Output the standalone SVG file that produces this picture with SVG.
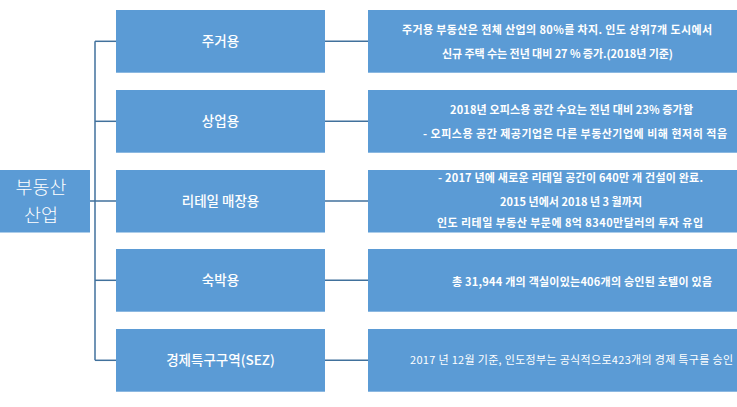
<svg xmlns="http://www.w3.org/2000/svg" width="737" height="407" viewBox="0 0 737 407">
<style>
  .box { fill: #5B9BD5; }
  .conn { stroke: #41719C; stroke-width: 1.5; fill: none; }
  .root { font-family: "Noto Sans CJK KR", "Noto Sans", sans-serif; font-size: 18.5px; fill: #FFFFFF; text-anchor: middle; font-weight: 300; }
  .mid { font-family: "Noto Sans CJK KR", "Noto Sans", sans-serif; font-size: 13.5px; fill: #FFFFFF; text-anchor: middle; font-weight: 500; }
  .det { font-family: "Noto Sans CJK KR", "Noto Sans", sans-serif; font-size: 11px; fill: #FFFFFF; text-anchor: middle; font-weight: 700; }
  .detn { font-family: "Noto Sans CJK KR", "Noto Sans", sans-serif; font-size: 11px; fill: #FFFFFF; text-anchor: middle; font-weight: 400; }
</style>
<rect width="737" height="407" fill="#FFFFFF"/>
<g id="connectors">
  <line class="conn" x1="90" y1="201" x2="95" y2="201"/>
  <line class="conn" x1="95" y1="41.3" x2="95" y2="360.3"/>
  <line class="conn" x1="95" y1="41.3" x2="116" y2="41.3"/>
  <line class="conn" x1="95" y1="121.3" x2="116" y2="121.3"/>
  <line class="conn" x1="95" y1="201" x2="116" y2="201"/>
  <line class="conn" x1="95" y1="280.3" x2="116" y2="280.3"/>
  <line class="conn" x1="95" y1="360.3" x2="116" y2="360.3"/>
  <line class="conn" x1="325" y1="41.3" x2="368" y2="41.3"/>
  <line class="conn" x1="325" y1="121.3" x2="368" y2="121.3"/>
  <line class="conn" x1="325" y1="201" x2="368" y2="201"/>
  <line class="conn" x1="325" y1="280.3" x2="368" y2="280.3"/>
  <line class="conn" x1="325" y1="360.3" x2="368" y2="360.3"/>
</g>
<g id="root">
  <rect class="box" x="0" y="170" width="90" height="62.5"/>
  <text class="root" x="41" y="193.5">부동산</text>
  <text class="root" x="41" y="222">산업</text>
</g>
<g id="residential">
  <rect class="box" x="116" y="10" width="209" height="62.7"/>
  <text class="mid" x="220.5" y="46">주거용</text>
</g>
<g id="commercial">
  <rect class="box" x="116" y="90" width="209" height="62.7"/>
  <text class="mid" x="220.5" y="126">상업용</text>
</g>
<g id="retail">
  <rect class="box" x="116" y="170" width="209" height="62.5"/>
  <text class="mid" x="220.5" y="206">리테일 매장용</text>
</g>
<g id="hospitality">
  <rect class="box" x="116" y="249" width="209" height="62.7"/>
  <text class="mid" x="220.5" y="285">숙박용</text>
</g>
<g id="sez">
  <rect class="box" x="116" y="329" width="209" height="62.7"/>
  <text class="mid" x="220.5" y="365">경제특구구역(SEZ)</text>
</g>
<g id="residential-detail">
  <rect class="box" x="368" y="10" width="369" height="62.7"/>
  <text class="det" x="557" y="34" textLength="310" lengthAdjust="spacing">주거용 부동산은 전체 산업의 80%를 차지. 인도 상위7개 도시에서</text>
  <text class="det" x="557.5" y="57.5" textLength="231" lengthAdjust="spacing">신규 주택 수는 전년 대비 27 % 증가.(2018년 기준)</text>
</g>
<g id="commercial-detail">
  <rect class="box" x="368" y="90" width="369" height="62.7"/>
  <text class="det" x="571.5" y="114" textLength="243" lengthAdjust="spacing">2018년 오피스용 공간 수요는 전년 대비 23% 증가함</text>
  <text class="det" x="575" y="137.5" textLength="304" lengthAdjust="spacing">-  오피스용 공간 제공기업은 다른 부동산기업에 비해 현저히 적음</text>
</g>
<g id="retail-detail">
  <rect class="box" x="368" y="170" width="369" height="62.5"/>
  <text class="det" x="570.5" y="182" textLength="265" lengthAdjust="spacing">- 2017 년에 새로운 리테일 공간이 640만 개 건설이 완료.</text>
  <text class="det" x="571" y="205.5" textLength="142" lengthAdjust="spacing">2015 년에서 2018 년 3 월까지</text>
  <text class="det" x="570" y="226.5" textLength="266" lengthAdjust="spacing">인도 리테일 부동산 부문에 8억 8340만달러의 투자 유입</text>
</g>
<g id="hospitality-detail">
  <rect class="box" x="368" y="249" width="369" height="62.7"/>
  <text class="det" x="582" y="285.5" textLength="260" lengthAdjust="spacing">총 31,944 개의 객실이있는406개의 승인된 호텔이 있음</text>
</g>
<g id="sez-detail">
  <rect class="box" x="368" y="329" width="369" height="62.7"/>
  <text class="detn" x="571.5" y="364" textLength="323" lengthAdjust="spacing">2017 년 12월 기준, 인도정부는 공식적으로423개의 경제 특구를 승인</text>
</g>
</svg>
